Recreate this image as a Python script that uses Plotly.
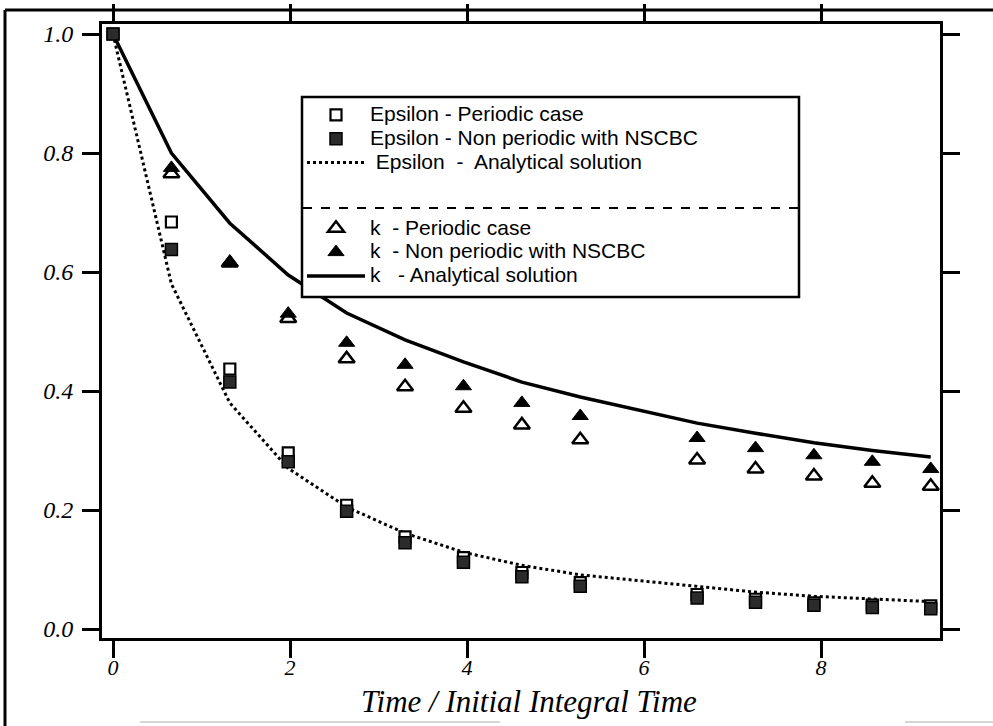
import plotly.graph_objects as go

# ---- data ----
t_data = [0.0, 0.66, 1.32, 1.98, 2.64, 3.30, 3.96, 4.62, 5.28, 6.60, 7.26, 7.92, 8.58, 9.24]
eps_periodic = [1.0, 0.684, 0.437, 0.296, 0.208, 0.155, 0.120, 0.095, 0.078, 0.058, 0.050, 0.044, 0.040, 0.039]
eps_nonperiodic = [1.0, 0.638, 0.415, 0.281, 0.198, 0.145, 0.112, 0.088, 0.072, 0.052, 0.045, 0.040, 0.036, 0.034]
eps_analytical = [1.0, 0.580, 0.380, 0.270, 0.205, 0.161, 0.129, 0.107, 0.091, 0.071, 0.062, 0.055, 0.050, 0.046]

t_k = [0.66, 1.32, 1.98, 2.64, 3.30, 3.96, 4.62, 5.28, 6.60, 7.26, 7.92, 8.58, 9.24]
k_periodic = [0.765, 0.615, 0.522, 0.454, 0.407, 0.371, 0.343, 0.318, 0.284, 0.269, 0.257, 0.245, 0.240]
k_nonperiodic = [0.775, 0.617, 0.530, 0.481, 0.444, 0.408, 0.380, 0.358, 0.321, 0.304, 0.292, 0.281, 0.269]
k_analytical = [1.0, 0.800, 0.682, 0.595, 0.531, 0.486, 0.449, 0.415, 0.390, 0.346, 0.329, 0.313, 0.300, 0.289]

x_ticks = [0, 2, 4, 6, 8]
y_ticks = [0.0, 0.2, 0.4, 0.6, 0.8, 1.0]
y_ticklabels = ["0.0", "0.2", "0.4", "0.6", "0.8", "1.0"]
x_title = "Time / Initial Integral Time"

legend_names = {
    "eps_p": "Epsilon - Periodic case",
    "eps_n": "Epsilon - Non periodic with NSCBC",
    "eps_a": "\u00a0Epsilon\u00a0 -\u00a0 Analytical solution",
    "k_p": "k\u00a0 - Periodic case",
    "k_n": "k\u00a0 - Non periodic with NSCBC",
    "k_a": "k\u00a0\u00a0 - Analytical solution",
}

# ---- geometry (pixels) ----
W, H = 993, 726
L, R, T, B = 102, 940, 24, 638
PW, PH = R - L, B - T


def px(x):
    return (x - L) / PW


def py(y):
    return (B - y) / PH


LEG_FONT = "Liberation Sans, Arial, sans-serif"
SERIF = "Liberation Serif, Times New Roman, serif"


def leg(name):
    return '<span style="font-size:21px">' + name + "</span>"


fig = go.Figure()

# analytical curves
fig.add_trace(go.Scatter(
    x=t_data, y=eps_analytical, mode="lines", name=leg(legend_names["eps_a"]),
    line=dict(color="black", width=3, dash="dot"), legendgroup="eps", legendrank=3))
fig.add_trace(go.Scatter(
    x=t_data, y=k_analytical, mode="lines", name=leg(legend_names["k_a"]),
    line=dict(color="black", width=3.5), legendgroup="k", legendrank=6))

# k markers
fig.add_trace(go.Scatter(
    x=t_k, y=k_periodic, mode="markers", name=leg(legend_names["k_p"]),
    marker=dict(symbol="triangle-up", size=14, color="white", line=dict(color="black", width=2.5)),
    legendgroup="k", legendrank=4))
fig.add_trace(go.Scatter(
    x=t_k, y=k_nonperiodic, mode="markers", name=leg(legend_names["k_n"]),
    marker=dict(symbol="triangle-up", size=14, color="black", line=dict(color="black", width=1)),
    legendgroup="k", legendrank=5))

# epsilon markers
fig.add_trace(go.Scatter(
    x=t_data, y=eps_periodic, mode="markers", name=leg(legend_names["eps_p"]),
    marker=dict(symbol="square", size=11, color="white", line=dict(color="black", width=2.2)),
    legendgroup="eps", legendrank=1))
fig.add_trace(go.Scatter(
    x=t_data, y=eps_nonperiodic, mode="markers", name=leg(legend_names["eps_n"]),
    marker=dict(symbol="square", size=12, color="#2b2b2b", line=dict(color="black", width=1.5)),
    legendgroup="eps", legendrank=2))

x_tick_font = dict(family=SERIF, size=22, color="black", style="italic")
y_tick_font = dict(family=SERIF, size=24, color="black", style="italic")

fig.update_xaxes(
    range=[(L - 113) / 88.5, (R - 113) / 88.5],
    tickvals=x_ticks, ticktext=[str(v) for v in x_ticks],
    showline=True, linecolor="black", linewidth=3, mirror="allticks",
    ticks="outside", ticklen=17, tickwidth=3, tickcolor="black",
    showgrid=False, zeroline=False, tickfont=x_tick_font, ticklabelstandoff=-9,
)
fig.update_yaxes(
    range=[(B - 629) / -595.0, (629 - T) / 595.0],
    tickvals=y_ticks, ticktext=y_ticklabels,
    showline=True, linecolor="black", linewidth=3, mirror="allticks",
    ticks="outside", ticklen=17, tickwidth=3, tickcolor="black",
    showgrid=False, zeroline=False, tickfont=y_tick_font, ticklabelstandoff=4,
)

shapes = [
    # legend box (covers curves underneath)
    dict(type="rect", xref="paper", yref="paper", x0=px(302), x1=px(799), y0=py(297), y1=py(97),
         fillcolor="white", line=dict(color="black", width=2.5), layer="above"),
    # dashed separator in legend
    dict(type="line", xref="paper", yref="paper", x0=px(303), x1=px(798), y0=py(208), y1=py(208),
         line=dict(color="black", width=2, dash="dash"), layer="above"),
    # page frame (scan border)
    dict(type="line", xref="paper", yref="paper", x0=px(5), x1=px(993), y0=py(10), y1=py(10),
         line=dict(color="black", width=3), layer="above"),
    dict(type="line", xref="paper", yref="paper", x0=px(5), x1=px(5), y0=py(10), y1=py(726),
         line=dict(color="black", width=3), layer="above"),
    dict(type="line", xref="paper", yref="paper", x0=px(140), x1=px(500), y0=py(722), y1=py(722),
         line=dict(color="#c8c8c8", width=1.5), layer="above"),
    dict(type="line", xref="paper", yref="paper", x0=px(905), x1=px(993), y0=py(722), y1=py(722),
         line=dict(color="#c8c8c8", width=1.5), layer="above"),
]

annotations = [
    dict(text=x_title, xref="paper", yref="paper", x=px(529), y=py(701),
         xanchor="center", yanchor="middle", showarrow=False,
         font=dict(family=SERIF, size=31, color="black", style="italic")),
]

fig.update_layout(
    width=W, height=H,
    margin=dict(l=L, r=W - R, t=T, b=H - B, autoexpand=False),
    paper_bgcolor="white", plot_bgcolor="white",
    shapes=shapes, annotations=annotations,
    showlegend=True,
    legend=dict(
        x=px(302), y=py(98), xanchor="left", yanchor="top",
        bgcolor="rgba(0,0,0,0)", borderwidth=0,
        font=dict(family=LEG_FONT, size=16, color="black"),
        traceorder="grouped", tracegroupgap=42, itemwidth=58,
    ),
)

fig.write_html("out.html", config={"displayModeBar": False},
               post_script="document.body.style.margin='0px';")
